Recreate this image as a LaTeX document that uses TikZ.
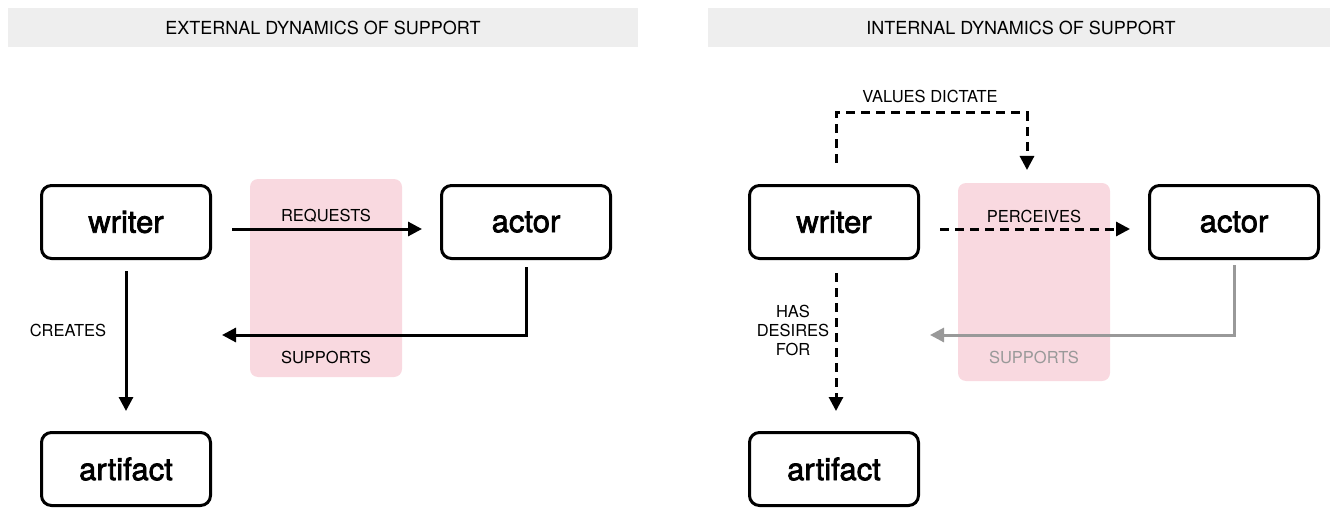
\documentclass[tikz,border=0pt]{standalone}
\usepackage{fontspec}
\setmainfont{TeX Gyre Heros}
\newfontfamily\boxfont[FakeBold=2.2]{TeX Gyre Heros}
\usetikzlibrary{arrows.meta}
\definecolor{barfill}{HTML}{EEEEEE}
\definecolor{pinkfill}{HTML}{F9D9E0}
\definecolor{supgray}{HTML}{999999}
\tikzset{
  entity/.style={draw, line width=3pt, rounded corners=10pt, minimum width=169pt,
    minimum height=73pt, font=\boxfont\fontsize{31}{35}\selectfont},
  lbl/.style={font=\fontsize{16.5}{19}\selectfont, inner sep=0pt, align=center},
  ttl/.style={font=\fontsize{18}{21}\selectfont, inner sep=0pt},
  conn/.style={line width=3pt, -{Triangle[length=14pt,width=14pt]}},
  dconn/.style={conn, dash pattern=on 9pt off 6pt},
}
\begin{document}
\begin{tikzpicture}[x=1pt, y=-1pt]
  \useasboundingbox (0,0) rectangle (1336,508);

  % Title bars
  \fill[barfill] (8,8) rectangle (638,47);
  \fill[barfill] (708,8) rectangle (1330,47);
  \node[ttl] (tl) at (323,28) {EXTERNAL DYNAMICS OF SUPPORT};
  \node[ttl] (tr) at (1021,28) {INTERNAL DYNAMICS OF SUPPORT};

  % Highlight areas
  \fill[pinkfill, rounded corners=8pt] (250,179) rectangle (402,377);
  \fill[pinkfill, rounded corners=8pt] (958,183) rectangle (1110,381);

  % Boxes, external
  \node[entity] (wl) at (126,222) {writer};
  \node[entity] (al) at (526,222) {actor};
  \node[entity] (fl) at (126,469) {artifact};

  % Boxes, internal
  \node[entity] (wr) at (834,222) {writer};
  \node[entity] (ar) at (1234,222) {actor};
  \node[entity] (fr) at (834,469) {artifact};

  % Labels
  \node[lbl] (req) at (326,216) {REQUESTS};
  \node[lbl] (supl) at (326,357) {SUPPORTS};
  \node[lbl] (cre) at (68,330) {CREATES};
  \node[lbl] (val) at (930,96) {VALUES DICTATE};
  \node[lbl] (per) at (1034,216) {PERCEIVES};
  \node[lbl, text=supgray] (supr) at (1034,357) {SUPPORTS};
  \node[lbl] (des) at (793,330) {HAS\\DESIRES\\FOR};

  % Arrows, external
  \draw[conn] ([xshift=20pt,yshift=-7pt]wl.east) -- ([xshift=-18pt,yshift=-7pt]al.west);
  \coordinate (sl) at (222,335);
  \draw[conn] ([yshift=-7pt]al.south) |- (sl);
  \draw[conn] ([yshift=-11pt]wl.south) -- ([yshift=20pt]fl.north);

  % Arrows, internal
  \coordinate (vd) at (1027,170);
  \draw[dconn] ([xshift=2pt,yshift=21pt]wr.north) -- ++(0,-50) -| (vd);
  \draw[dconn] ([xshift=20pt,yshift=-7pt]wr.east) -- ([xshift=-18pt,yshift=-7pt]ar.west);
  \coordinate (sr) at (930,335);
  \draw[conn, supgray] ([yshift=-5pt]ar.south) |- (sr);
  \draw[dconn] ([xshift=2pt,yshift=-13pt]wr.south) -- ([xshift=2pt,yshift=20pt]fr.north);
\end{tikzpicture}
\end{document}
